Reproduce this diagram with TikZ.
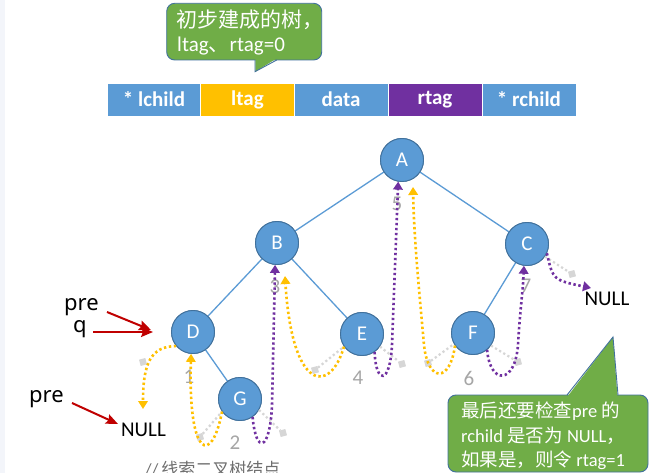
\documentclass[tikz,border=0pt]{standalone}
\usepackage{fontspec}
\setmainfont{Carlito}
\newfontfamily\cjk{Noto Sans CJK SC}
\newfontfamily\lblfont{Noto Sans}
\usetikzlibrary{arrows.meta,calc}
\definecolor{nblue}{HTML}{5B9BD5}
\definecolor{nborder}{HTML}{41719C}
\definecolor{gold}{HTML}{FFC000}
\definecolor{purp}{HTML}{7030A0}
\definecolor{cgreen}{HTML}{70AD47}
\definecolor{darkred}{HTML}{C00000}
\definecolor{numgray}{HTML}{A6A6A6}
\definecolor{ghost}{HTML}{D6D6D6}
\definecolor{stripe}{HTML}{F3F5FA}
\definecolor{foottxt}{HTML}{6E6E6E}
\newcommand\myfs[1]{\fontsize{#1}{#1}\selectfont}
\tikzset{
  cell/.style={rectangle, minimum width=94pt, minimum height=33pt, draw=white, line width=0.8pt,
    text=white, font=\bfseries\myfs{21}, inner sep=0pt},
  tnode/.style={circle, fill=nblue, draw=nborder, line width=0.9pt, minimum size=43pt, inner sep=0pt,
    text=white, font=\myfs{21}},
  edge/.style={draw=nblue, line width=1.3pt},
  numlbl/.style={text=numgray, font=\myfs{21}, inner sep=0pt},
  ythr/.style={draw=gold, line width=2.6pt, dash pattern=on 2.4pt off 2.6pt,
    -{Triangle[length=8pt,width=9.5pt]}},
  pthr/.style={draw=purp, line width=2.6pt, dash pattern=on 2.4pt off 2.6pt,
    -{Triangle[length=8pt,width=9.5pt]}},
  ghostln/.style={draw=ghost, line width=2.2pt, dash pattern=on 2.2pt off 2.6pt},
  ghostsq/.style={rectangle, fill=ghost, minimum size=6.5pt, inner sep=0pt, rotate=15},
  redarr/.style={draw=darkred, line width=2pt, -{Stealth[length=12pt,width=10pt,inset=2pt]}},
  ptrlbl/.style={font=\lblfont\myfs{22}, inner sep=0pt, anchor=base},
  nulltxt/.style={font=\myfs{21}, inner sep=0pt},
  callbox/.style={fill=cgreen, draw=nborder, line width=0.9pt, rounded corners=8pt},
  calltxt/.style={text=white, inner sep=0pt, anchor=base west},
}
\begin{document}
\begin{tikzpicture}[x=1pt,y=-1pt]
\useasboundingbox (0,0) rectangle (659,473);
\fill[white] (0,0) rectangle (659,473);
\fill[stripe] (0,0) rectangle (5,473);

% top callout
\draw[callbox] (166.7,3.3) rectangle (321.7,60);
\fill[cgreen] (255.3,58.5) -- (255.3,71.7) -- (276.5,58.5) -- cycle;
\draw[draw=nborder, line width=0.9pt] (255,60) -- (255,71.7) -- (276.7,60);
\node[calltxt, font=\cjk\myfs{21}] (ct1) at (176.5,27.5) {初步建成的树，};
\node[calltxt, font=\myfs{21}] (ct2) at (177,51.5) {ltag{\cjk 、}rtag=0};

% table
\node[cell, fill=nblue] (c1) at (154,99.5) {* lchild};
\node[cell, fill=gold] (c2) at (247.5,99.5) {ltag};
\node[cell, fill=nblue] (c3) at (341,99.5) {data};
\node[cell, fill=purp] (c4) at (435,99.5) {rtag};
\node[cell, fill=nblue] (c5) at (529,99.5) {* rchild};

% numbers
\node[numlbl] (n1) at (189,377) {1};
\node[numlbl] (n2) at (235,443) {2};
\node[numlbl] (n3) at (275,287) {3};
\node[numlbl] (n4) at (358,378) {4};
\node[numlbl] (n5) at (397,204) {5};
\node[numlbl] (n6) at (469,378) {6};
\node[numlbl] (n7) at (526,286) {7};

% tree nodes
\node[tnode] (A) at (402,160) {A};
\node[tnode] (B) at (277,243) {B};
\node[tnode] (C) at (527,244) {C};
\node[tnode] (D) at (193,332) {D};
\node[tnode] (E) at (362,334) {E};
\node[tnode] (F) at (473,333) {F};
\node[tnode] (G) at (240,399) {G};

\begin{scope}[on background layer/.style={}]
\draw[edge] (A) -- (B);
\draw[edge] (A) -- (C);
\draw[edge] (B) -- (D);
\draw[edge] (B) -- (E);
\draw[edge] (D) -- (G);
\draw[edge] (C) -- (F);
\end{scope}
% redraw nodes over edges
\node[tnode] at (A) {A};
\node[tnode] at (B) {B};
\node[tnode] at (C) {C};
\node[tnode] at (D) {D};
\node[tnode] at (E) {E};
\node[tnode] at (F) {F};
\node[tnode] at (G) {G};

% ghost motion paths
\node[ghostsq] (s1) at (143,362) {};
\node[ghostsq] (s2) at (200,437) {};
\node[ghostsq] (s3) at (283,433) {};
\node[ghostsq] (s4) at (315,370) {};
\node[ghostsq] (s5) at (402,364) {};
\node[ghostsq] (s6) at (428,363) {};
\node[ghostsq] (s7) at (518,362) {};
\node[ghostsq] (s8) at (572,274) {};
\draw[ghostln] (s2) -- (G.215);
\draw[ghostln] (G.-30) -- (s3);
\draw[ghostln] (s4) -- (E.215);
\draw[ghostln] (E.-35) -- (s5);
\draw[ghostln] (s6) -- (F.210);
\draw[ghostln] (F.-35) -- (s7);
\draw[ghostln] (C.-35) -- (s8);

% pointer labels
\node[ptrlbl] (pre1) at (81.5,310) {pre};
\node[ptrlbl] (q) at (80,332) {q};
\node[ptrlbl] (pre2) at (46.5,402) {pre};
\node[nulltxt] (null1) at (143.5,430) {NULL};
\node[nulltxt] (null2) at (607,299) {NULL};

\coordinate (r1s) at (107,312);
\coordinate (r1e) at (151,330);
\coordinate (r2s) at (93,332);
\coordinate (r2e) at (153,332);
\coordinate (r3s) at (72,403);
\coordinate (r3e) at (118,424);
\draw[redarr] (r1s) -- (r1e);
\draw[redarr] (r2s) -- (r2e);
\draw[redarr] (r3s) -- (r3e);

% thread arrows
\coordinate (tN1) at (143,409);
\coordinate (tB) at (285,276);
\coordinate (tA) at (413,187);
\coordinate (tN2) at (591,288);
\draw[ythr] (D.220) .. controls (150,346) and (143,365) .. (tN1);
\draw[ythr] (G.215) .. controls (212,465) and (188,460) .. (D.265);
\draw[pthr] (G.-55) .. controls (256,455) and (270,452) .. (272,405) -- (B.-95);
\draw[ythr] (E.215) .. controls (330,395) and (292,392) .. (tB);
\draw[pthr] (E.-55) .. controls (376,385) and (390,385) .. (392,345) -- (A.-100);
\draw[ythr] (F.215) .. controls (450,383) and (428,383) .. (424,345) .. controls (420,300) and (414,240) .. (tA);
\draw[pthr] (F.-50) .. controls (490,385) and (515,385) .. (518,345) .. controls (520,310) and (523,290) .. (C.-98);
\draw[pthr] (C.-25) .. controls (553,280) .. (tN2);

% bottom callout
\draw[callbox] (448,395) rectangle (648,472);
\fill[cgreen] (567.5,396.5) -- (613,337) -- (617.5,396.5) -- cycle;
\draw[draw=nborder, line width=0.9pt] (567,395) -- (613,337) -- (618,395);
\node[calltxt, font=\myfs{18.5}] (bt1) at (461,417) {{\cjk 最后还要检查}pre {\cjk 的}};
\node[calltxt, font=\myfs{18.5}] (bt2) at (461,442) {rchild {\cjk 是否为} NULL{\cjk ，}};
\node[calltxt, font=\myfs{18.5}] (bt3) at (461,466) {{\cjk 如果是，则令} rtag=1};

% footer
\node[anchor=base west, inner sep=0pt, text=foottxt, font=\myfs{17}] (foot) at (145,475) {//\hspace{3pt}{\cjk 线索二叉树结点}};
\end{tikzpicture}
\end{document}
